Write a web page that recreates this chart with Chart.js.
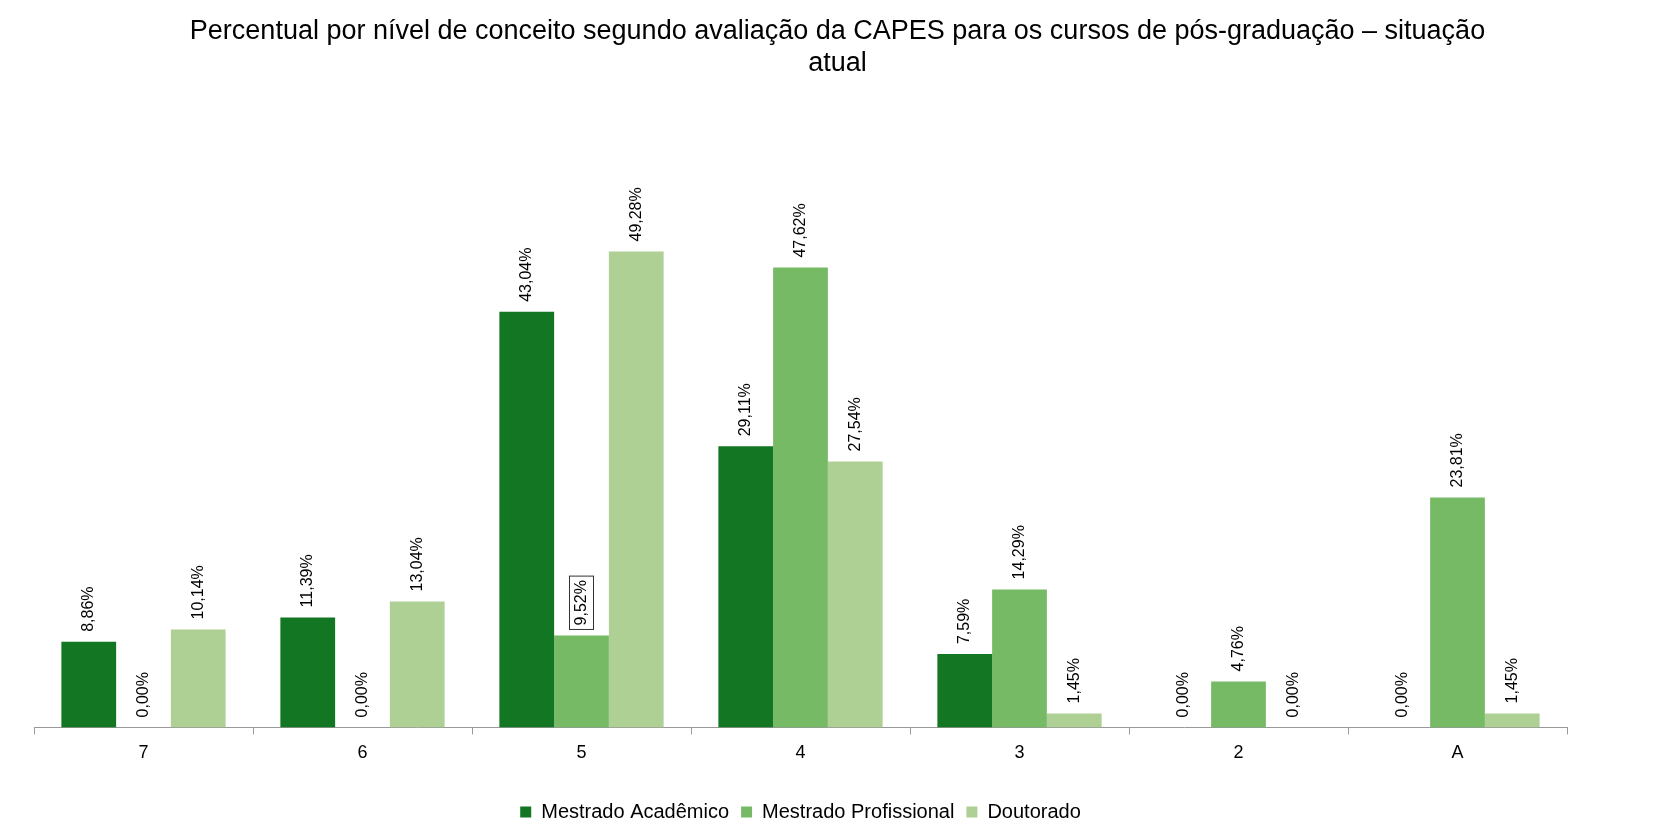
<!DOCTYPE html>
<html>
<head>
<meta charset="utf-8">
<script src="https://cdn.jsdelivr.net/npm/chart.js"></script>
<style>
  html, body { margin: 0; padding: 0; background: #fff; }
  #wrap { position: relative; width: 1675px; height: 840px; }
  #title {
    position: absolute; left: 0; top: 14px; width: 1675px;
    text-align: center; font: 27px "Liberation Sans", Arial, sans-serif;
    line-height: 32px; color: #000;
  }
</style>
</head>
<body>
<div id="wrap">
  <div id="title">Percentual por nível de conceito segundo avaliação da CAPES para os cursos de pós-graduação – situação<br>atual</div>
  <canvas id="c"></canvas>
</div>
<script>
const categories = ['7', '6', '5', '4', '3', '2', 'A'];
const mestradoAcademico = [8.86, 11.39, 43.04, 29.11, 7.59, 0.00, 0.00];
const mestradoProfissional = [0.00, 0.00, 9.52, 47.62, 14.29, 4.76, 23.81];
const doutorado = [10.14, 13.04, 49.28, 27.54, 1.45, 0.00, 1.45];

// rotated value labels above each bar; one of them carries a box in the original
const valueLabels = {
  id: 'valueLabels',
  afterDatasetsDraw(chart) {
    const ctx = chart.ctx;
    ctx.save();
    ctx.font = '16px "Liberation Sans", Arial, sans-serif';
    ctx.fillStyle = '#000';
    ctx.textBaseline = 'middle';
    ctx.textAlign = 'left';
    chart.data.datasets.forEach((ds, di) => {
      chart.getDatasetMeta(di).data.forEach((bar, i) => {
        const txt = ds.data[i].toFixed(2).replace('.', ',') + '%';
        const w = ctx.measureText(txt).width;
        ctx.save();
        ctx.translate(bar.x, bar.y - 10);
        ctx.rotate(-Math.PI / 2);
        ctx.fillText(txt, 0, 0);
        if (di === 1 && i === 2) {
          ctx.strokeStyle = '#333';
          ctx.lineWidth = 1;
          ctx.strokeRect(-4, -12, w + 8, 24);
        }
        ctx.restore();
      });
    });
    ctx.restore();
  }
};

new Chart(document.getElementById('c'), {
  type: 'bar',
  data: {
    labels: categories,
    datasets: [
      { label: 'Mestrado Acadêmico', data: mestradoAcademico, backgroundColor: '#127622' },
      { label: 'Mestrado Profissional', data: mestradoProfissional, backgroundColor: '#77BA65' },
      { label: 'Doutorado', data: doutorado, backgroundColor: '#AFD094' }
    ]
  },
  options: {
    responsive: true,
    maintainAspectRatio: false,
    animation: false,
    datasets: { bar: { categoryPercentage: 0.75, barPercentage: 1 } },
    layout: { padding: { left: 34, right: 108, top: 148, bottom: 8 } },
    plugins: {
      legend: {
        position: 'bottom',
        labels: {
          color: '#000',
          boxWidth: 11, boxHeight: 11,
          font: { family: '"Liberation Sans", Arial, sans-serif', size: 20 },
          padding: 12
        }
      },
      tooltip: { enabled: false }
    },
    scales: {
      x: {
        grid: { offset: true, drawOnChartArea: false, drawTicks: true, tickLength: 7, color: '#999' },
        border: { color: '#999' },
        ticks: { color: '#000', font: { family: '"Liberation Sans", Arial, sans-serif', size: 18 }, padding: 8 },
        afterFit(scale) { scale.height += 18; }
      },
      y: {
        display: false,
        min: 0, max: 60
      }
    }
  },
  plugins: [valueLabels]
});
</script>
</body>
</html>
